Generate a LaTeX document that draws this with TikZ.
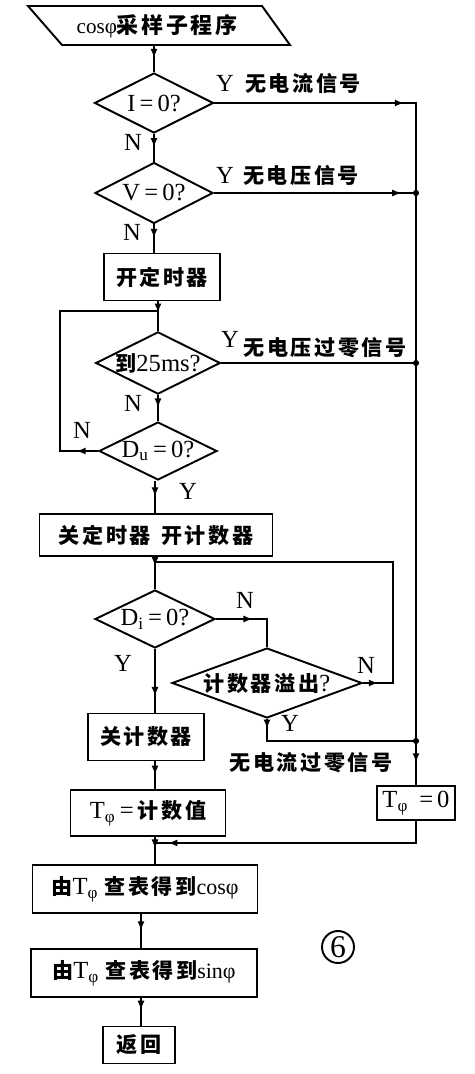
\documentclass[tikz,border=0pt]{standalone}
\usepackage{fontspec}
\setmainfont{Liberation Serif}
\newfontfamily\cjkbase{Noto Sans CJK SC}[LetterSpace=12]
\newcommand\cjk{\cjkbase\bfseries\fontsize{12}{14}\selectfont}
\usetikzlibrary{shapes.geometric,arrows.meta,decorations.markings,calc}
\newcommand\myarrowtip{\arrow{Latex[length=5.5pt,width=4pt]}}
\begin{document}
\begin{tikzpicture}[x=0.02cm,y=-0.02cm, line width=1.1pt,
  every node/.style={font=\fontsize{14}{16}\selectfont},
  box/.style={draw, rectangle, inner sep=0pt},
  dia/.style={draw, diamond, inner sep=0pt, aspect=2},
  lab/.style={inner sep=0pt},
  arr/.style={decoration={markings, mark=at position #1 with {\myarrowtip}}, postaction={decorate}},
  arr/.default=0.5,
  arrtwo/.style 2 args={decoration={markings, mark=at position #1 with {\myarrowtip}, mark=at position #2 with {\myarrowtip}}, postaction={decorate}},
  jdot/.style={circle, fill, inner sep=0pt, minimum size=3.5pt}]
\useasboundingbox (0,0) rectangle (474,1074);

% start parallelogram
\coordinate (p1) at (28,6);
\coordinate (p2) at (262,6);
\coordinate (p3) at (290,45);
\coordinate (p4) at (62,45);
\draw (p1) -- (p2) -- (p3) -- (p4) -- cycle;
\node[lab] (start) at (157,26) {{\fontsize{12}{13}\selectfont cosφ}{\cjkbase\bfseries\fontsize{12.5}{14}\selectfont 采样子程序}};
\coordinate (startb) at (154,45);

% process and decision nodes
\node[dia, minimum width=2.38cm, minimum height=1.2cm] (I) at (154,103) {I\,=\,0?};
\node[dia, minimum width=2.36cm, minimum height=1.22cm] (V) at (154,193) {V\,=\,0?};
\node[box, minimum width=2.32cm, minimum height=0.94cm] (b1) at (162,277) {\cjk 开定时器};
\node[dia, minimum width=2.44cm, minimum height=1.18cm] (T25) at (158,363) {{\cjk 到}25ms?};
\node[dia, minimum width=2.36cm, minimum height=1.16cm] (Du) at (158,451) {D\textsubscript{u}\,=\,0?};
\node[box, minimum width=4.66cm, minimum height=0.84cm] (b2) at (156,535) {\cjk 关定时器\hspace{0.5em}开计数器};
\node[dia, minimum width=2.4cm, minimum height=1.16cm] (Di) at (155,619) {D\textsubscript{i}\,=\,0?};
\node[dia, aspect=3, minimum width=3.8cm, minimum height=1.4cm] (OV) at (267,683) {{\cjk 计数器溢出}?};
\node[box, minimum width=2.32cm, minimum height=0.94cm] (b3) at (146,737) {\cjk 关计数器};
\node[box, minimum width=3.1cm, minimum height=0.92cm] (b4) at (148,813) {T\textsubscript{φ}\,=\,{\cjk 计数值}};
\node[box, minimum width=4.5cm, minimum height=0.96cm] (b5) at (145,889) {{\cjk 由}T\textsubscript{φ} {\cjk 查表得到}{\fontsize{12.5}{14}\selectfont cosφ}};
\node[box, minimum width=4.52cm, minimum height=0.96cm] (b6) at (144,973) {{\cjk 由}T\textsubscript{φ} {\cjk 查表得到}{\fontsize{12.5}{14}\selectfont sinφ}};
\node[box, minimum width=1.44cm, minimum height=0.74cm] (b7) at (139,1045) {\cjk 返回};
\node[box, minimum width=1.56cm, minimum height=0.68cm] (T0) at (416,803) {T\textsubscript{φ}\;\,=\,0};

% helper coordinates
\coordinate (colA) at (155,0);
\coordinate (colB) at (141,0);
\coordinate (j1) at ($(T25.north)+(0,-20)$);
\coordinate (j2) at ($(Di.north)+(0,-27)$);
\coordinate (j3) at ($(OV.south -| T0.north)+(0,22)$);
\coordinate (j4) at ($(b4.south -| colA)+(0,6)$);

% main flow
\draw[arr] (startb) -- (I.north);
\draw[arr] (I.south) -- (V.north);
\draw[arr] (V.south) -- (V.south |- b1.north);
\draw[arr=0.4] (b1.south -| T25.north) -- (T25.north);
\draw[arr] (T25.south) -- (Du.north);
\draw[arr=0.08] (Du.west) -- ++(-38,0) |- (j1);
\draw[arr] (Du.south -| colA) -- (b2.north -| colA);
\draw[arr=0.3] (b2.south -| Di.north) -- (Di.north);
\draw[arr=0.47] (Di.east) -| (OV.north);
\draw[arr=0.04] (OV.east) -- ++(30,0) |- (j2);
\draw[arr=0.06] (OV.south) |- (j3);
\draw[arr=0.75] (Di.south) -- (Di.south |- b3.north);
\draw[arr] (b3.south -| colA) -- (b4.north -| colA);
\draw[arr=0.45] (b4.south -| colA) -- (b5.north -| colA);
\draw[arr=0.955] (T0.south) |- (j4);
\draw[arr] (b5.south -| colB) -- (b6.north -| colB);
\draw[arr=0.45] (b6.south -| colB) -- (b7.north -| colB);

% right-hand exits
\draw[arrtwo={0.215}{0.975}] (I.east) -| (T0.north);
\draw[arr=0.93] (V.east) -- (V.east -| T0.north);
\draw (T25.east) -- (T25.east -| T0.north);
\node[jdot] (d1) at (V.east -| T0.north) {};
\node[jdot] (d2) at (T25.east -| T0.north) {};
\node[jdot] (d3) at (j3) {};

% labels
\node[lab] (y1) at (225,83) {Y};
\node[lab] (t1) at (303,83) {\cjk 无电流信号};
\node[lab] (n1) at (133,142) {N};
\node[lab] (y2) at (225,175) {Y};
\node[lab] (t2) at (301,176) {\cjk 无电压信号};
\node[lab] (n2) at (132,232) {N};
\node[lab] (y3) at (230,339) {Y};
\node[lab] (t3) at (325,348) {\cjk 无电压过零信号};
\node[lab] (n3) at (133,403) {N};
\node[lab] (n4) at (82,430) {N};
\node[lab] (y4) at (188,491) {Y};
\node[lab] (n5) at (245,600) {N};
\node[lab] (y5) at (123,663) {Y};
\node[lab] (n6) at (366,665) {N};
\node[lab] (y6) at (290,723) {Y};
\node[lab] (t4) at (311,763) {\cjk 无电流过零信号};
\node[circle, draw, inner sep=0pt, minimum size=0.64cm, font=\fontsize{18}{20}\selectfont] (num) at (338,947) {6};
\end{tikzpicture}
\end{document}
